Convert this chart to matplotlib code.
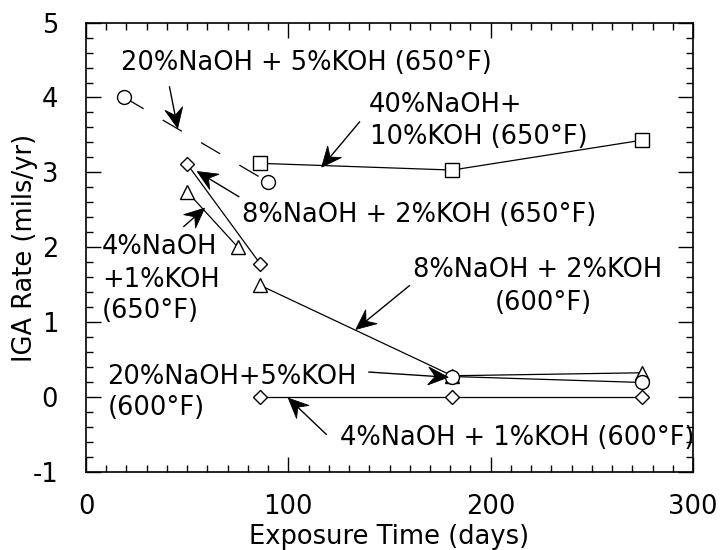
import matplotlib
matplotlib.use("Agg")
import numpy as np
import matplotlib.pyplot as plt
from matplotlib.ticker import MultipleLocator
from matplotlib.patches import Polygon
from matplotlib.transforms import IdentityTransform

plt.rcParams['font.family'] = ['DejaVu Sans']
plt.rcParams['lines.scale_dashes'] = False
plt.rcParams['axes.unicode_minus'] = False

# ---------------- data ----------------
naoh20_650_days = [19, 90]
naoh20_650_rate = [4.0, 2.87]

naoh40_650_days = [86, 181, 275]
naoh40_650_rate = [3.12, 3.03, 3.43]

naoh8_650_days = [50, 86]
naoh8_650_rate = [3.11, 1.78]

naoh4_650_days = [50, 75]
naoh4_650_rate = [2.74, 2.0]

naoh8_600_days = [86, 181, 275]
naoh8_600_rate = [1.49, 0.28, 0.32]

naoh20_600_days = [181, 275]
naoh20_600_rate = [0.27, 0.19]

naoh4_600_days = [86, 181, 275]
naoh4_600_rate = [0.0, 0.0, 0.0]

x_ticks = [0, 100, 200, 300]
y_ticks = [-1, 0, 1, 2, 3, 4, 5]

FS = 18.5

fig = plt.figure(figsize=(7.28, 5.5), dpi=100)
ax = fig.add_axes([86 / 728, 1 - 471.5 / 550, (693 - 86) / 728, (471.5 - 22.7) / 550])
ax.set_xlim(0, 300)
ax.set_ylim(-1, 5)

line_kw = dict(color='black', lw=0.9, mfc='white', mec='black', mew=1.0, zorder=3)

ax.plot(naoh20_650_days, naoh20_650_rate, marker='o', ms=10, dashes=(16, 16), **line_kw)
ax.plot(naoh40_650_days, naoh40_650_rate, marker='s', ms=10, **line_kw)
ax.plot(naoh8_650_days, naoh8_650_rate, marker='D', ms=7.6, **line_kw)
ax.plot(naoh4_650_days, naoh4_650_rate, marker='^', ms=10, **line_kw)
ax.plot(naoh8_600_days, naoh8_600_rate, marker='^', ms=10, **line_kw)
ax.plot(naoh20_600_days, naoh20_600_rate, marker='o', ms=10, **line_kw)
ax.plot(naoh4_600_days, naoh4_600_rate, marker='D', ms=7.6, **line_kw)

# ticks
ax.set_xticks(x_ticks)
ax.set_yticks(y_ticks)
ax.xaxis.set_minor_locator(MultipleLocator(10))
ax.yaxis.set_minor_locator(MultipleLocator(0.2))
ax.tick_params(which='both', direction='in', top=True, right=True,
               labelsize=FS, width=1.0)
ax.tick_params(axis='x', which='major', pad=16)
ax.tick_params(axis='y', which='major', pad=20)
ax.tick_params(which='major', length=11)
ax.tick_params(which='minor', length=5)
for s in ax.spines.values():
    s.set_linewidth(1.2)

fig.text(25 / 728, 1 - 248 / 550, 'IGA Rate (mils/yr)', rotation=90,
         ha='center', va='center', fontsize=FS)
fig.text(389.5 / 728, 1 - 537 / 550, 'Exposure Time (days)',
         ha='center', va='center', fontsize=FS)

# annotations
def label(x, y, s, ha='left'):
    ax.text(x, y, s, ha=ha, va='center', fontsize=FS, zorder=5)

def arrow(start, tip, hl=20.0, hw=9.0, notch=13.0):
    p0 = ax.transData.transform(start)
    p1 = ax.transData.transform(tip)
    d = p1 - p0
    u = d / np.hypot(*d)
    n = np.array([-u[1], u[0]])
    b1 = p1 - u * hl + n * hw
    b2 = p1 - u * hl - n * hw
    nc = p1 - u * notch
    nc_data = ax.transData.inverted().transform(nc)
    ax.plot([start[0], nc_data[0]], [start[1], nc_data[1]],
            color='black', lw=1.0, zorder=4, solid_capstyle='butt')
    head = Polygon([p1, b1, nc, b2], closed=True, transform=IdentityTransform(),
                   fc='black', ec='black', lw=0.6, zorder=4, clip_on=False)
    ax.add_artist(head)

label(108.7, 4.46, '20%NaOH + 5%KOH (650°F)', ha='center')
arrow((41.2, 4.15), (45.3, 3.59))

label(139.9, 3.90, '40%NaOH+')
label(140.4, 3.47, '10%KOH (650°F)')
arrow((135.4, 3.68), (116.5, 3.07))

label(77.0, 2.43, '8%NaOH + 2%KOH (650°F)')
arrow((75.8, 2.67), (55.0, 3.01))

label(7.8, 2.00, '4%NaOH')
label(7.8, 1.56, '+1%KOH')
label(7.8, 1.14, '(650°F)')
arrow((48.1, 2.27), (58.6, 2.52))

label(223.4, 1.69, '8%NaOH + 2%KOH', ha='center')
label(225.9, 1.25, '(600°F)', ha='center')
arrow((160.1, 1.49), (133.4, 0.90))

label(10.2, 0.27, '20%NaOH+5%KOH')
label(10.9, -0.15, '(600°F)')
arrow((139.5, 0.33), (179.0, 0.26))

label(213.0, -0.556, '4%NaOH + 1%KOH (600°F)', ha='center')
arrow((119.0, -0.51), (100.0, -0.02))

fig.savefig('out.png', dpi=100)
